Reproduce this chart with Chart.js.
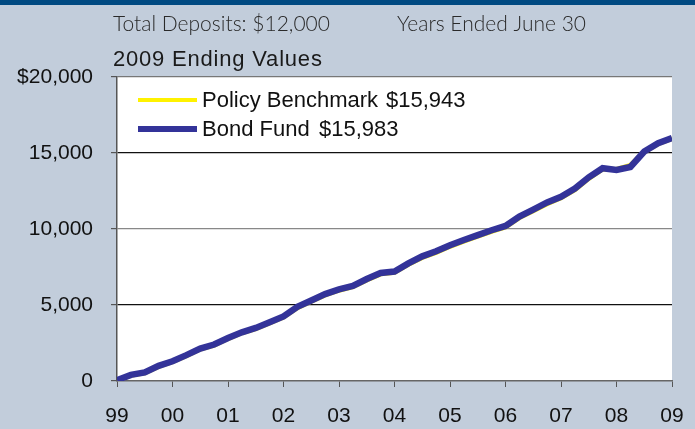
<!DOCTYPE html>
<html>
<head>
<meta charset="utf-8">
<script src="https://cdn.jsdelivr.net/npm/chart.js@4"></script>
<style>
html,body{margin:0;padding:0;background:#c2cddb;}
canvas{display:block;}
</style>
</head>
<body>
<canvas id="c" width="695" height="429"></canvas>
<script>
// Quarterly values, June 1999 .. June 2009
const bondFund = [50, 400, 560, 1000, 1300, 1700, 2130, 2400, 2830, 3200, 3490, 3860, 4250, 4880, 5300, 5720, 6030, 6250, 6710, 7110, 7200, 7740, 8200, 8530, 8930, 9280, 9600, 9920, 10200, 10820, 11280, 11750, 12120, 12660, 13400, 14000, 13890, 14080, 15100, 15650, 15983];
const policyBenchmark = [0, 380, 540, 960, 1270, 1660, 2100, 2360, 2790, 3170, 3450, 3820, 4200, 4820, 5240, 5660, 5970, 6200, 6650, 7050, 7150, 7680, 8130, 8460, 8860, 9200, 9530, 9850, 10130, 10750, 11200, 11660, 12050, 12580, 13330, 13950, 13920, 14180, 15080, 15610, 15943];
const yearLabels = ['99','00','01','02','03','04','05','06','07','08','09'];
const yTickLabels = ['0','5,000','10,000','15,000','$20,000'];
const seriesNames = ['Policy Benchmark','Bond Fund'];
const endingValues = ['$15,943','$15,983'];
const headerLeft = 'Total Deposits: $12,000';
const headerRight = 'Years Ended June 30';
const subTitle = '2009 Ending Values';

const BLUE = '#333399';
const YELLOW = '#fff200';

const toPts = arr => arr.map((v, i) => ({x: i, y: v}));

const decor = {
  id: 'decor',
  beforeDraw(chart) {
    const ctx = chart.ctx;
    ctx.save();
    ctx.fillStyle = '#c2cddb';
    ctx.fillRect(0, 0, chart.width, chart.height);
    ctx.fillStyle = '#004a82';
    ctx.fillRect(0, 0, chart.width, 5);
    const a = chart.chartArea;
    ctx.fillStyle = '#ffffff';
    ctx.fillRect(a.left, a.top, a.right - a.left, a.bottom - a.top);
    ctx.restore();
  },
  afterDraw(chart) {
    const ctx = chart.ctx;
    ctx.save();
    ctx.textBaseline = 'alphabetic';
    ctx.textAlign = 'left';
    ctx.fillStyle = '#2a2a2a';
    ctx.font = '300 21px Lato';
    ctx.fillText(headerLeft, 113, 31);
    ctx.fillText(headerRight, 397, 31);
    ctx.fillStyle = '#1a1a1a';
    ctx.font = '22px "Liberation Sans", Arial, sans-serif';
    if ('letterSpacing' in ctx) ctx.letterSpacing = '0.8px';
    ctx.fillText(subTitle, 113, 66);
    if ('letterSpacing' in ctx) ctx.letterSpacing = '0px';
    // legend
    const rows = [
      {color: YELLOW, w: 4, y: 100, name: seriesNames[0], val: endingValues[0], vx: 386},
      {color: BLUE, w: 6, y: 129, name: seriesNames[1], val: endingValues[1], vx: 319}
    ];
    ctx.font = '22px "Liberation Sans", Arial, sans-serif';
    ctx.textBaseline = 'middle';
    rows.forEach(r => {
      ctx.strokeStyle = r.color;
      ctx.lineWidth = r.w;
      ctx.beginPath();
      ctx.moveTo(138, r.y);
      ctx.lineTo(197, r.y);
      ctx.stroke();
      ctx.fillStyle = '#111';
      ctx.fillText(r.name, 202, r.y + 1);
      ctx.fillText(r.val, r.vx, r.y + 1);
    });
    ctx.restore();
  }
};

new Chart(document.getElementById('c'), {
  type: 'line',
  data: {
    datasets: [
      {label: seriesNames[1], data: toPts(bondFund), borderColor: BLUE, borderWidth: 6.5, pointRadius: 0, tension: 0, order: 0, borderJoinStyle: 'miter'},
      {label: seriesNames[0], data: toPts(policyBenchmark), borderColor: YELLOW, borderWidth: 5, pointRadius: 0, tension: 0, order: 1}
    ]
  },
  options: {
    responsive: false,
    animation: false,
    layout: {padding: {top: 77, right: 23, left: 0, bottom: 0}},
    plugins: {legend: {display: false}, tooltip: {enabled: false}},
    scales: {
      x: {
        type: 'linear',
        min: 0, max: 40,
        afterFit: s => { s.height = 48; s.paddingRight = 0; s.paddingLeft = 0; },
        ticks: {
          stepSize: 4,
          autoSkip: false,
          maxRotation: 0,
          padding: 17,
          color: '#111',
          font: {family: '"Liberation Sans", Arial, sans-serif', size: 21},
          callback: v => yearLabels[v / 4]
        },
        grid: {drawOnChartArea: false, drawTicks: true, tickLength: 6, tickColor: '#555', tickWidth: 1},
        border: {display: true, color: '#666', width: 1.5}
      },
      y: {
        min: 0, max: 20000,
        afterFit: s => { s.width = 117; },
        ticks: {
          stepSize: 5000,
          padding: 18,
          color: '#111',
          font: {family: '"Liberation Sans", Arial, sans-serif', size: 21},
          callback: (v) => yTickLabels[v / 5000]
        },
        grid: {
          drawTicks: true,
          tickLength: 6,
          tickColor: '#555',
          lineWidth: 1.2,
          color: ctx => ['rgba(0,0,0,0)', '#111', '#888', '#111', '#777'][ctx.index]
        },
        border: {display: true, color: '#555', width: 1.5}
      }
    }
  },
  plugins: [decor]
});
</script>
</body>
</html>
